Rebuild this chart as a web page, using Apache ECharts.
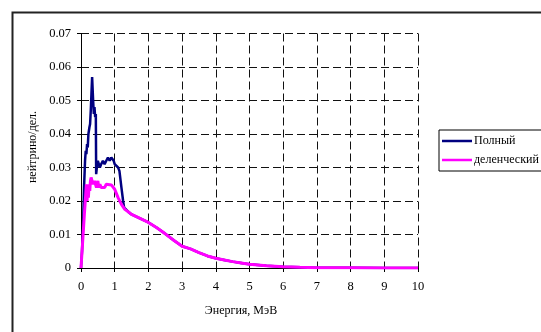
<!DOCTYPE html>
<html>
<head>
<meta charset="utf-8">
<script src="https://cdn.jsdelivr.net/npm/echarts@6/dist/echarts.min.js"></script>
<style>html,body{margin:0;padding:0;background:#fff}#c{width:541px;height:332px}</style>
</head>
<body>
<div id="c"></div>
<script>
var xTicks = [0,1,2,3,4,5,6,7,8,9,10];
var yTicks = [0,0.01,0.02,0.03,0.04,0.05,0.06,0.07];

var fullX = [0,0.03,0.06,0.09,0.12,0.14,0.16,0.18,0.2,0.22,0.25,0.27,0.29,0.31,0.33,0.34,0.36,0.38,0.4,0.42,0.44,0.45,0.47,0.5,0.53,0.56,0.6,0.65,0.7,0.75,0.8,0.85,0.9,0.94,0.97,1.0,1.05,1.1,1.14,1.2,1.25,1.28,1.3,1.4,1.5,1.75,2,2.25,2.5,2.75,3,3.25,3.5,3.75,4,4.25,4.5,4.75,5,5.5,6,6.5,7,8,9,10];
var fullY = [0,0.005,0.012,0.024,0.032,0.035,0.034,0.037,0.036,0.040,0.042,0.043,0.047,0.052,0.057,0.057,0.050,0.046,0.048,0.045,0.046,0.028,0.030,0.032,0.031,0.030,0.031,0.032,0.031,0.032,0.033,0.032,0.033,0.0333,0.032,0.031,0.0305,0.030,0.029,0.024,0.020,0.018,0.0175,0.0168,0.016,0.0148,0.0136,0.012,0.0102,0.0083,0.0065,0.0057,0.0046,0.0036,0.0029,0.0024,0.0019,0.0015,0.0011,0.0007,0.0004,0.0002,0.0001,0.00005,0,0];

var fisX = [0,0.05,0.1,0.12,0.14,0.16,0.18,0.2,0.22,0.24,0.26,0.28,0.3,0.33,0.36,0.4,0.43,0.46,0.5,0.53,0.56,0.6,0.65,0.7,0.75,0.8,0.9,1.0,1.1,1.2,1.3,1.4,1.5,1.75,2,2.25,2.5,2.75,3,3.25,3.5,3.75,4,4.25,4.5,4.75,5,5.5,6,6.5,7,8,9,10];
var fisY = [0,0.008,0.016,0.019,0.022,0.025,0.020,0.024,0.021,0.025,0.023,0.026,0.027,0.026,0.025,0.026,0.025,0.024,0.026,0.024,0.025,0.024,0.0235,0.024,0.025,0.025,0.0248,0.0235,0.021,0.019,0.0175,0.0168,0.016,0.0148,0.0136,0.012,0.0102,0.0083,0.0065,0.0057,0.0046,0.0036,0.0029,0.0024,0.0019,0.0015,0.0011,0.0007,0.0004,0.0002,0.0001,0.00005,0,0];

var seriesNames = ['Полный','деленческий'];
var xTitle = 'Энергия, МэВ';
var yTitle = 'нейтрино/дел.';

function pairs(xs, ys){ return xs.map(function(x,i){ return [x, ys[i]]; }); }

var font = '"Liberation Serif","Times New Roman",serif';
var chart = echarts.init(document.getElementById('c'), null, {renderer:'canvas'});
chart.setOption({
  animation:false,
  backgroundColor:'#fff',
  grid:{left:81, right:123, top:33.5, bottom:64, containLabel:false},
  xAxis:{type:'value', min:xTicks[0], max:xTicks[xTicks.length-1], interval:1,
    axisLine:{show:true, onZero:false, lineStyle:{color:'#000', width:1}},
    axisTick:{show:true, length:4, lineStyle:{color:'#000'}},
    axisLabel:{color:'#000', fontFamily:font, fontSize:12.5, margin:12},
    splitLine:{show:true, lineStyle:{color:'#111', type:[8,4], width:1}}
  },
  yAxis:{type:'value', min:yTicks[0], max:yTicks[yTicks.length-1], interval:0.01,
    axisLine:{show:true, lineStyle:{color:'#000', width:1}},
    axisTick:{show:true, length:4, lineStyle:{color:'#000'}},
    axisLabel:{color:'#000', fontFamily:font, fontSize:12.5, margin:10,
      formatter:function(v){ return v===0 ? '0' : v.toFixed(2); }},
    splitLine:{show:true, lineStyle:{color:'#111', type:[8,4], width:1}}
  },
  legend:{orient:'vertical', left:439, top:130, data:seriesNames,
    borderColor:'#000', borderWidth:1, padding:[5,4,5,3], itemGap:7,
    itemWidth:30, itemHeight:2.5, icon:'rect',
    textStyle:{fontFamily:font, fontSize:12, color:'#000', padding:[0,0,0,-3]}
  },
  graphic:[
    {type:'rect', left:10, top:10, shape:{x:0,y:0,width:700,height:500}, style:{fill:'none', stroke:'#222', lineWidth:2}, silent:true},
    {type:'text', x:241, y:311, style:{text:xTitle, font:'12px '+font, fill:'#000', align:'center', verticalAlign:'middle'}},
    {type:'text', x:33, y:147, rotation:Math.PI/2, style:{text:yTitle, font:'12px '+font, fill:'#000', align:'center', verticalAlign:'middle'}}
  ],
  series:[
    {name:seriesNames[0], type:'line', data:pairs(fullX, fullY), showSymbol:false, symbol:'none',
      lineStyle:{color:'#000080', width:2.5}, itemStyle:{color:'#000080'}, z:2},
    {name:seriesNames[1], type:'line', data:pairs(fisX, fisY), showSymbol:false, symbol:'none',
      lineStyle:{color:'#ff00ff', width:3}, itemStyle:{color:'#ff00ff'}, z:3}
  ]
});
</script>
</body>
</html>
